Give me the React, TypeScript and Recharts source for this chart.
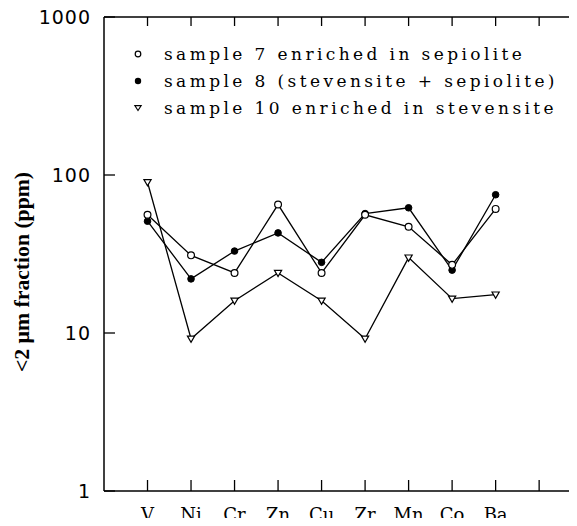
import { LineChart, Line, XAxis, YAxis, Legend } from "recharts";

const elements = ["V", "Ni", "Cr", "Zn", "Cu", "Zr", "Mn", "Co", "Ba"];
const sample7 = [56, 31, 24, 65, 24, 56, 47, 27, 61];
const sample8 = [51, 22, 33, 43, 28, 57, 62, 25, 75];
const sample10 = [90, 9.2, 16, 24, 16, 9.2, 30, 16.5, 17.5];

const xTicks = [1, 2, 3, 4, 5, 6, 7, 8, 9, 10];
const yTicks = [1, 10, 100, 1000];

const data = elements.map((el, i) => ({
  pos: i + 1,
  el,
  s7: sample7[i],
  s8: sample8[i],
  s10: sample10[i],
}));

// the frame's right side is cropped off in the original, so the x range stops short of 11
const X_MAX = 10.87;
const W = 569;
const H = 524;
const LEFT_W = 96;
const PLOT_W = W - LEFT_W;

const serif = "'DejaVu Serif', serif";
const sans = "'DejaVu Sans', sans-serif";

const BottomTick = (props: any) => {
  const { x, y, payload } = props;
  const label = elements[payload.value - 1] ?? "";
  return (
    <g>
      <line x1={x} y1={y} x2={x} y2={y - 11} stroke="#000" strokeWidth={1.3} />
      <text x={x} y={y + 30} textAnchor="middle" fontFamily={serif} fontSize={18} fill="#000">
        {label}
      </text>
    </g>
  );
};

const TopTick = (props: any) => {
  const { x, y } = props;
  return <line x1={x} y1={y} x2={x} y2={y + 9} stroke="#000" strokeWidth={1.3} />;
};

// left ticks also draw the inward tick on the right side
const LeftTick = (props: any) => {
  const { x, y, payload } = props;
  const xr = x + PLOT_W;
  return (
    <g>
      <line x1={x} y1={y} x2={x + 11} y2={y} stroke="#000" strokeWidth={1.3} />
      <line x1={xr} y1={y} x2={xr - 7} y2={y} stroke="#000" strokeWidth={1.3} />
      <text x={x - 13} y={y} dy="0.36em" textAnchor="end" fontFamily={sans} fontSize={19} letterSpacing={1} fill="#000">
        {payload.value}
      </text>
    </g>
  );
};

const Triangle = (props: any) => {
  const { cx, cy, index } = props;
  if (cx == null || cy == null) return <g key={`t${index}`} />;
  return (
    <path
      key={`t${index}`}
      d={`M${cx - 3.6},${cy - 2.6} L${cx + 3.6},${cy - 2.6} L${cx},${cy + 3.6} Z`}
      fill="#fff"
      stroke="#000"
      strokeWidth={1.2}
    />
  );
};

const legendRows = [
  { name: "sample 7 enriched in sepiolite", kind: "open" },
  { name: "sample 8 (stevensite + sepiolite)", kind: "filled" },
  { name: "sample 10 enriched in stevensite", kind: "tri" },
];

const LegendBox = () => (
  <div style={{ fontFamily: serif, fontSize: 17, letterSpacing: 3.4, color: "#000", whiteSpace: "nowrap" }}>
    {legendRows.map((r) => (
      <div key={r.name} style={{ height: 27, display: "flex", alignItems: "center" }}>
        <svg width={16} height={16} style={{ marginRight: 18, flex: "none" }}>
          {r.kind === "open" && <circle cx={8} cy={8} r={2.8} fill="#fff" stroke="#000" strokeWidth={1.2} />}
          {r.kind === "filled" && <circle cx={8} cy={8} r={3.2} fill="#000" />}
          {r.kind === "tri" && <path d="M4.8,5.6 L11.2,5.6 L8,10.6 Z" fill="#fff" stroke="#000" strokeWidth={1.1} />}
        </svg>
        <span>{r.name}</span>
      </div>
    ))}
  </div>
);

export default function App() {
  return (
    <div style={{ position: "relative", width: W, height: H, overflow: "hidden", marginTop: -6, marginBottom: -8 }}>
      <LineChart width={W} height={H} data={data} margin={{ top: 6, right: 0, bottom: 0, left: 0 }}>
        <XAxis
          dataKey="pos"
          type="number"
          domain={[0, X_MAX]}
          ticks={xTicks}
          interval={0}
          height={35}
          tickSize={0}
          tickMargin={0}
          tick={<BottomTick />}
          axisLine={{ stroke: "#000", strokeWidth: 1.5 }}
          tickLine={false}
          allowDataOverflow
        />
        <XAxis
          xAxisId="top"
          orientation="top"
          dataKey="pos"
          type="number"
          domain={[0, X_MAX]}
          ticks={xTicks}
          interval={0}
          height={9}
          tickSize={0}
          tickMargin={0}
          tick={<TopTick />}
          axisLine={{ stroke: "#000", strokeWidth: 1.5 }}
          tickLine={false}
          allowDataOverflow
        />
        <YAxis
          type="number"
          scale="log"
          domain={[1, 1000]}
          ticks={yTicks}
          interval={0}
          width={LEFT_W}
          tickSize={0}
          tickMargin={0}
          tick={<LeftTick />}
          axisLine={{ stroke: "#000", strokeWidth: 1.5 }}
          tickLine={false}
          allowDataOverflow
        />
        <Legend
          layout="horizontal"
          align="center"
          verticalAlign="middle"
          content={<LegendBox />}
          wrapperStyle={{ top: 38, left: 122, width: 445, height: 90 }}
        />
        <Line
          dataKey="s10"
          stroke="#000"
          strokeWidth={1.3}
          dot={<Triangle />}
          isAnimationActive={false}
        />
        <Line
          dataKey="s8"
          stroke="#000"
          strokeWidth={1.3}
          dot={{ r: 3.3, fill: "#000", stroke: "#000", strokeWidth: 1 }}
          isAnimationActive={false}
        />
        <Line
          dataKey="s7"
          stroke="#000"
          strokeWidth={1.3}
          dot={{ r: 3.4, fill: "#fff", stroke: "#000", strokeWidth: 1.2 }}
          isAnimationActive={false}
        />
      </LineChart>
      <svg width={40} height={H} style={{ position: "absolute", left: 0, top: 0 }}>
        <text
          x={14}
          y={270}
          dy="0.35em"
          transform="rotate(-90, 14, 270)"
          textAnchor="middle"
          fontFamily="'Liberation Serif', serif"
          fontWeight="bold"
          fontSize={20}
          textLength={200}
          lengthAdjust="spacingAndGlyphs"
          fill="#000"
        >
          {"<2 µm fraction (ppm)"}
        </text>
      </svg>
    </div>
  );
}
